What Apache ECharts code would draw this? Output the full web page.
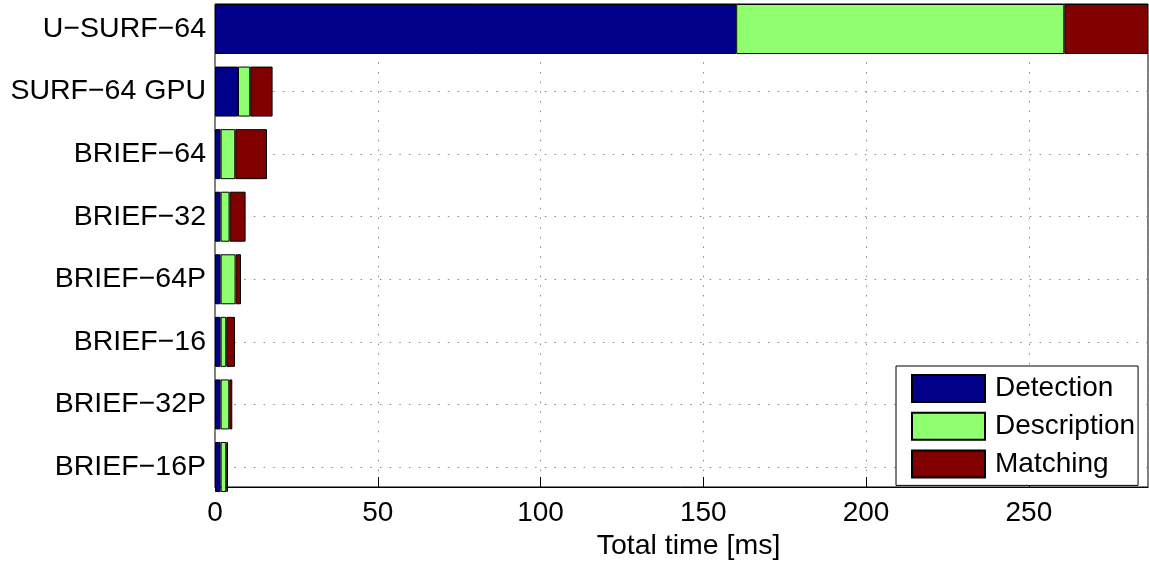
<!DOCTYPE html>
<html>
<head>
<meta charset="utf-8">
<script src="https://cdn.jsdelivr.net/npm/echarts@6/dist/echarts.min.js"></script>
<style>html,body{margin:0;padding:0;background:#fff}#c{width:1149px;height:566px}</style>
</head>
<body>
<div id="c"></div>
<script>
const categories = ['U\u2212SURF\u221264', 'SURF\u221264 GPU', 'BRIEF\u221264', 'BRIEF\u221232', 'BRIEF\u221264P', 'BRIEF\u221216', 'BRIEF\u221232P', 'BRIEF\u221216P'];
const detection   = [160.1, 7.06, 1.72, 1.72, 1.72, 1.72, 1.72, 1.72];
const description = [100.8, 3.78, 4.51, 2.76, 4.60, 1.75, 2.67, 1.75];
const matching    = [25.7, 6.85, 9.74, 4.92, 1.66, 2.67, 0.92, 0.52];
const xTicks = [0, 50, 100, 150, 200, 250];
const xMax = 286.6;

const FONT = 'Liberation Sans';
const chart = echarts.init(document.getElementById('c'), null, {renderer: 'canvas'});
const dotted = {color: '#8a8a8a', width: 1, type: [1.5, 8.2]};
const edge = {borderColor: '#000', borderWidth: 1};

chart.setOption({
  animation: false,
  textStyle: {fontFamily: FONT},
  grid: [
    {left: 215, right: 1, top: 29, bottom: 99, containLabel: false},
    {left: 215, right: 1, top: 4, bottom: 74, show: true, borderColor: '#000', borderWidth: 1, backgroundColor: 'transparent', z: 0}
  ],
  legend: {
    orient: 'vertical', left: 896, top: 366,
    padding: [8, 3, 7, 15], itemGap: 8.7, itemWidth: 73, itemHeight: 27,
    backgroundColor: '#fff', borderColor: '#000', borderWidth: 1,
    icon: 'rect',
    textStyle: {fontFamily: FONT, fontSize: 28, color: '#000', padding: [0, 0, 0, 5]},
    data: ['Detection', 'Description', 'Matching']
  },
  xAxis: [
    {gridIndex: 0, type: 'value', min: 0, max: xMax, show: false},
    {gridIndex: 1, type: 'value', min: 0, max: xMax, interval: 50,
     axisLine: {show: true, lineStyle: {color: '#000', width: 1}},
     axisTick: {show: true, inside: true, length: 10, lineStyle: {color: '#000'}},
     axisLabel: {fontFamily: FONT, fontSize: 28, color: '#000', margin: 12, showMaxLabel: false,
                 formatter: v => xTicks.includes(v) ? String(v) : ''},
     splitLine: {show: true, lineStyle: dotted},
     name: 'Total time [ms]', nameLocation: 'middle', nameGap: 45,
     nameTextStyle: {fontFamily: FONT, fontSize: 28.5, color: '#000', padding: [0, 0, 0, 14]}
    }
  ],
  yAxis: [
    {gridIndex: 0, type: 'category', data: categories, inverse: true, boundaryGap: false,
     axisLine: {show: false}, axisTick: {show: false},
     axisLabel: {fontFamily: FONT, fontSize: 28.5, color: '#000', margin: 9},
     splitLine: {show: true, lineStyle: dotted}
    },
    {gridIndex: 1, type: 'value', min: 0, max: 1, show: false}
  ],
  series: [
    {name: 'Detection', type: 'bar', stack: 't', xAxisIndex: 0, yAxisIndex: 0, data: detection,
     barWidth: 50, clip: false, itemStyle: Object.assign({color: '#000088'}, edge), z: 3},
    {name: 'Description', type: 'bar', stack: 't', xAxisIndex: 0, yAxisIndex: 0, data: description,
     barWidth: 50, clip: false, itemStyle: Object.assign({color: '#8fff70'}, edge), z: 3},
    {name: 'Matching', type: 'bar', stack: 't', xAxisIndex: 0, yAxisIndex: 0, data: matching,
     barWidth: 50, clip: false, itemStyle: Object.assign({color: '#800000'}, edge), z: 3}
  ]
});
</script>
</body>
</html>
